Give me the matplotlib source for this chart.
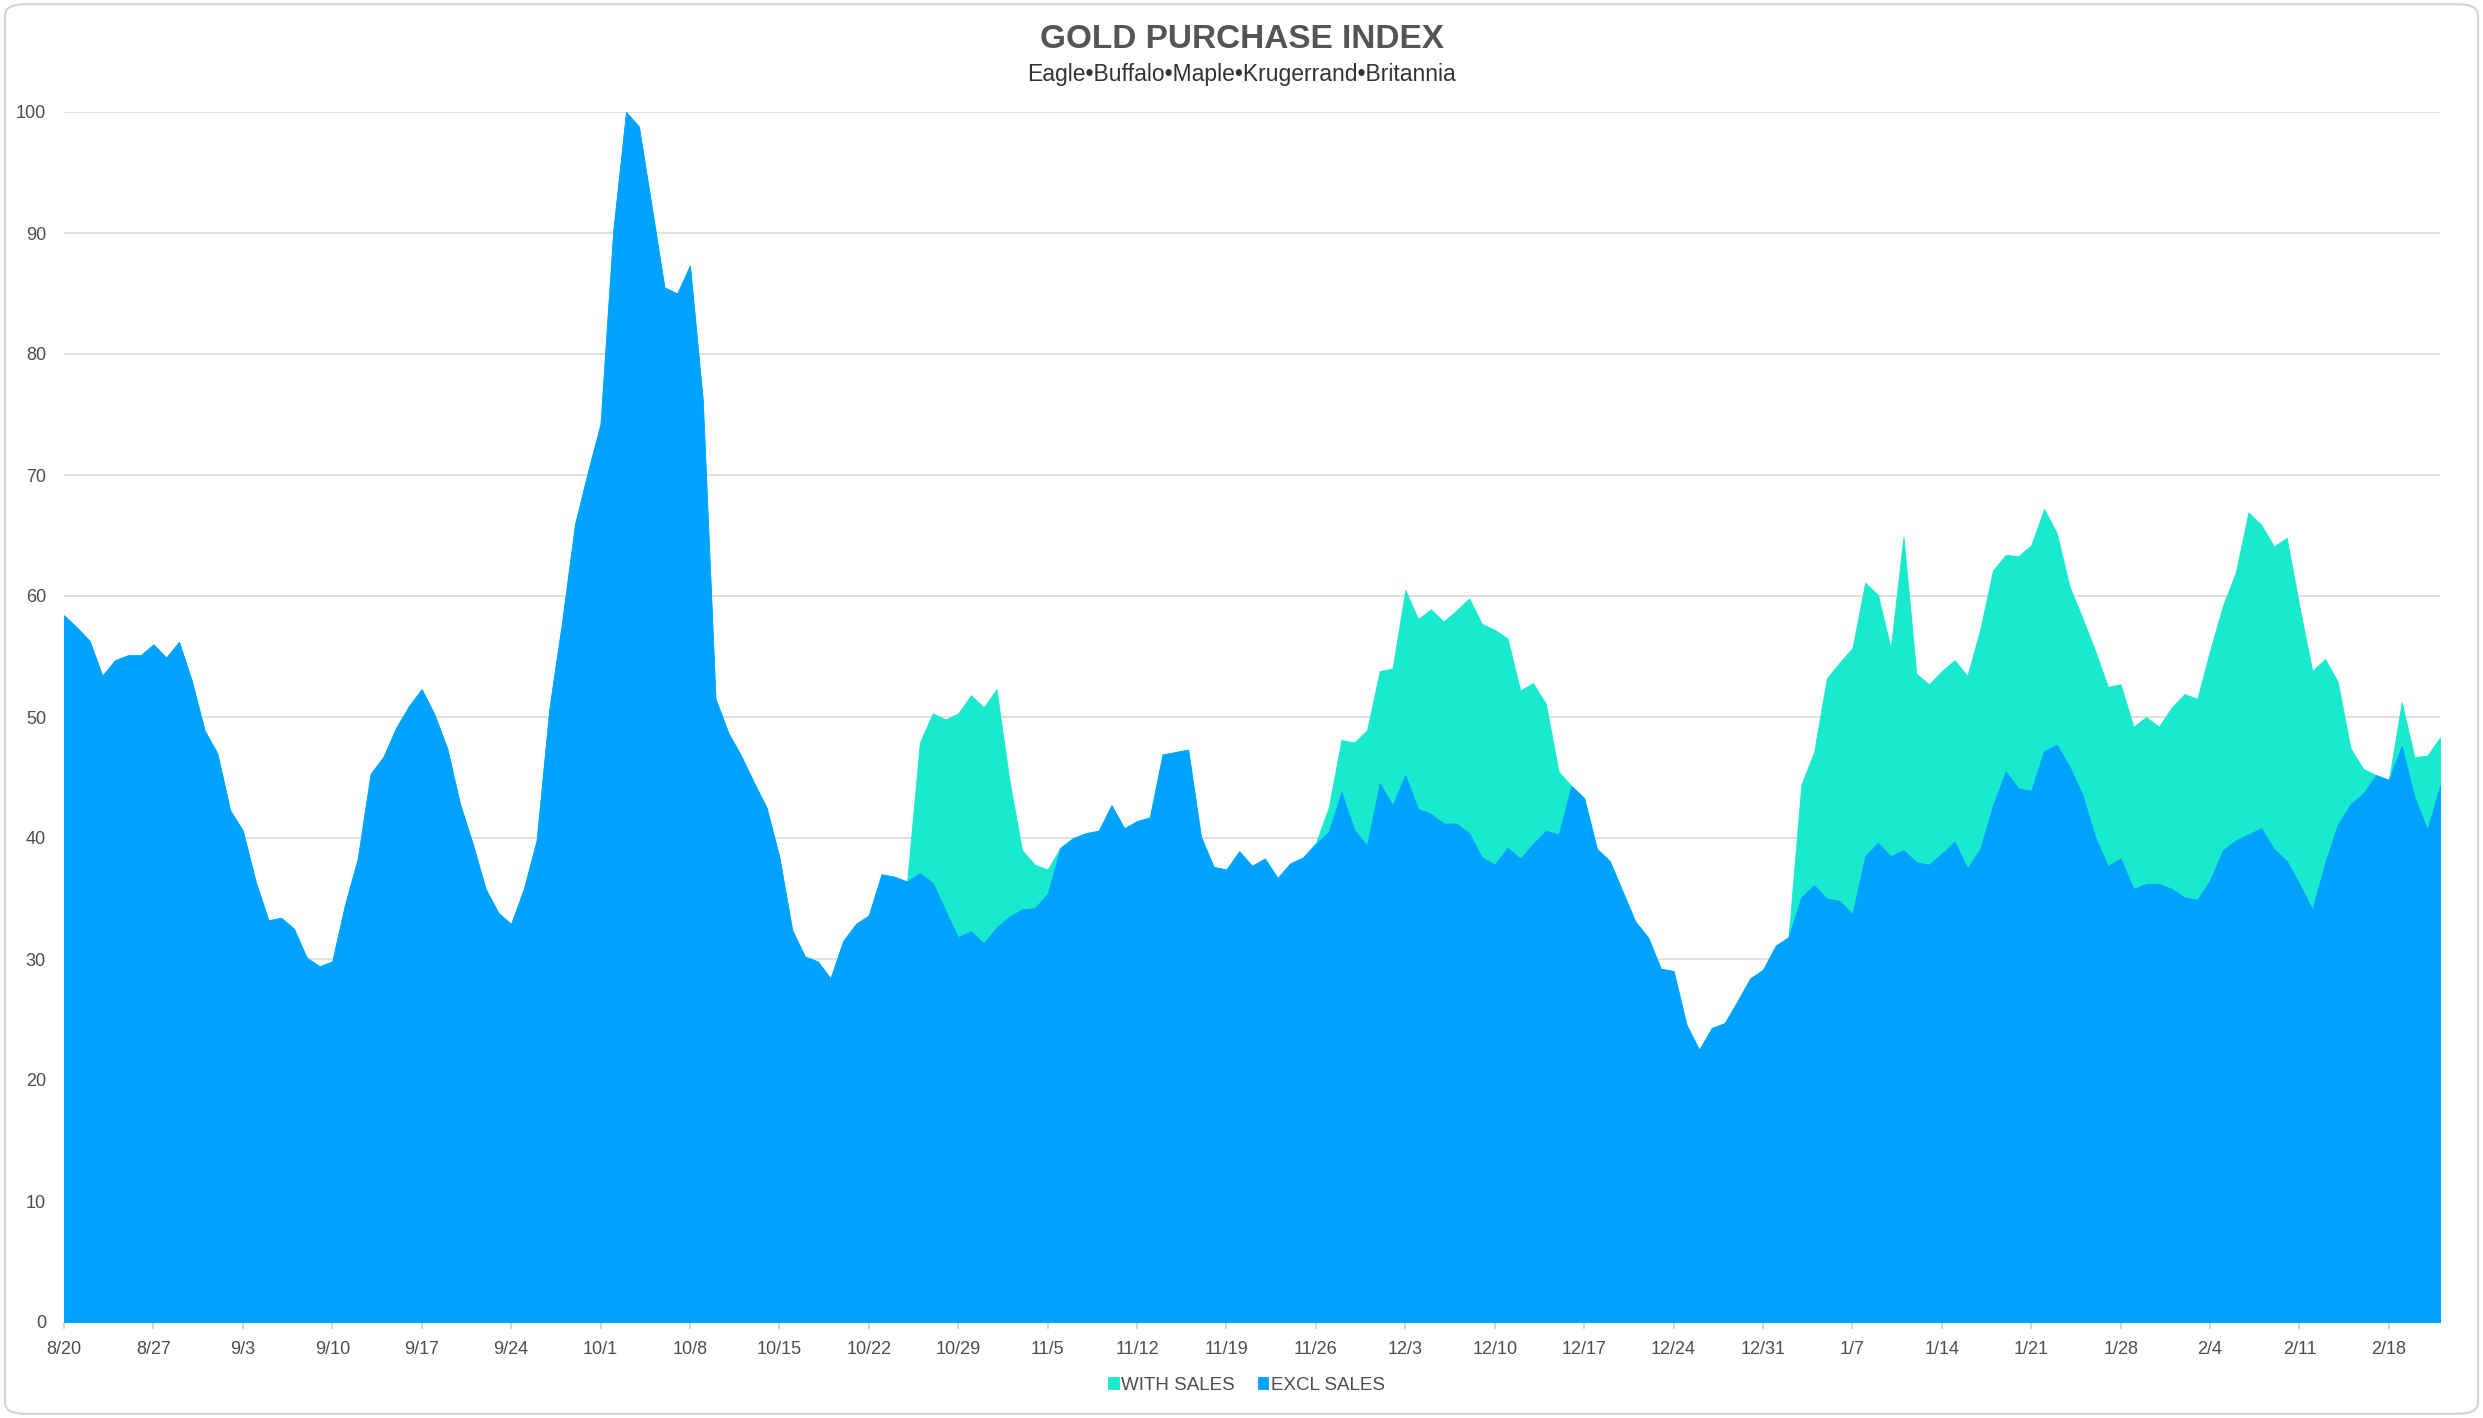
import numpy as np
import matplotlib
matplotlib.use("Agg")
import matplotlib.pyplot as plt
from matplotlib.patches import FancyBboxPatch

plt.rcParams['font.family'] = ['Liberation Sans', 'DejaVu Sans']

# daily index values, 8/20 .. 2/22
excl_sales = [
    58.4, 57.4, 56.3, 53.4, 54.7, 55.1, 55.1, 56.0, 54.9, 56.2,
    53.0, 48.9, 47.0, 42.3, 40.6, 36.4, 33.2, 33.4, 32.5, 30.1,
    29.4, 29.8, 34.5, 38.3, 45.3, 46.7, 49.1, 50.9, 52.3, 50.2,
    47.4, 42.8, 39.5, 35.8, 33.8, 32.9, 35.8, 39.8, 50.7, 57.9,
    65.9, 70.2, 74.2, 90.2, 100.0, 98.8, 92.2, 85.5, 85.0, 87.3,
    76.2, 51.5, 48.7, 46.8, 44.6, 42.5, 38.4, 32.4, 30.2, 29.8,
    28.4, 31.5, 32.9, 33.6, 37.0, 36.8, 36.4, 37.1, 36.3, 34.0,
    31.8, 32.3, 31.3, 32.6, 33.5, 34.1, 34.2, 35.4, 39.2, 40.0,
    40.4, 40.6, 42.7, 40.8, 41.4, 41.7, 46.9, 47.1, 47.3, 40.1,
    37.6, 37.4, 38.9, 37.7, 38.3, 36.7, 37.9, 38.4, 39.5, 40.5,
    43.8, 40.7, 39.4, 44.5, 42.7, 45.2, 42.4, 42.0, 41.2, 41.2,
    40.4, 38.4, 37.8, 39.2, 38.3, 39.5, 40.6, 40.3, 44.3, 43.3,
    39.1, 38.1, 35.6, 33.1, 31.8, 29.2, 29.0, 24.6, 22.5, 24.3,
    24.7, 26.5, 28.4, 29.1, 31.1, 31.8, 35.1, 36.1, 35.0, 34.8,
    33.7, 38.5, 39.6, 38.5, 39.0, 38.0, 37.8, 38.7, 39.7, 37.5,
    39.1, 42.7, 45.5, 44.1, 43.9, 47.2, 47.7, 45.9, 43.6, 40.1,
    37.7, 38.3, 35.8, 36.2, 36.2, 35.8, 35.1, 34.9, 36.5, 39.0,
    39.8, 40.3, 40.8, 39.1, 38.1, 36.2, 34.1, 37.9, 41.1, 42.8,
    43.7, 45.2, 44.8, 47.6, 43.4, 40.7, 44.3,
]

with_sales = [
    58.4, 57.4, 56.3, 53.4, 54.7, 55.1, 55.1, 56.0, 54.9, 56.2,
    53.0, 48.9, 47.0, 42.3, 40.6, 36.4, 33.2, 33.4, 32.5, 30.1,
    29.4, 29.8, 34.5, 38.3, 45.3, 46.7, 49.1, 50.9, 52.3, 50.2,
    47.4, 42.8, 39.5, 35.8, 33.8, 32.9, 35.8, 39.8, 50.7, 57.9,
    65.9, 70.2, 74.2, 90.2, 100.0, 98.8, 92.2, 85.5, 85.0, 87.3,
    76.2, 51.5, 48.7, 46.8, 44.6, 42.5, 38.4, 32.4, 30.2, 29.8,
    28.4, 31.5, 32.9, 33.6, 37.0, 36.8, 36.4, 47.9, 50.3, 49.8,
    50.3, 51.8, 50.8, 52.3, 44.8, 39.0, 37.8, 37.4, 39.2, 40.0,
    40.4, 40.6, 42.7, 40.8, 41.4, 41.7, 46.9, 47.1, 47.3, 40.1,
    37.6, 37.4, 38.9, 37.7, 38.3, 36.7, 37.9, 38.4, 39.6, 42.5,
    48.1, 47.9, 48.9, 53.8, 54.0, 60.5, 58.1, 58.9, 57.9, 58.8,
    59.8, 57.7, 57.2, 56.5, 52.2, 52.8, 51.1, 45.5, 44.3, 43.3,
    39.1, 38.1, 35.6, 33.1, 31.8, 29.2, 29.0, 24.6, 22.5, 24.3,
    24.7, 26.5, 28.4, 29.1, 31.1, 31.8, 44.4, 47.1, 53.2, 54.5,
    55.7, 61.1, 60.1, 55.7, 64.9, 53.6, 52.7, 53.8, 54.7, 53.4,
    57.2, 62.1, 63.4, 63.3, 64.2, 67.2, 65.2, 60.8, 58.2, 55.5,
    52.5, 52.7, 49.2, 50.0, 49.2, 50.8, 51.9, 51.5, 55.5, 59.2,
    61.9, 66.9, 65.9, 64.1, 64.8, 59.1, 53.8, 54.8, 52.9, 47.4,
    45.7, 45.2, 44.8, 51.2, 46.7, 46.8, 48.3,
]

tick_labels = ['8/20', '8/27', '9/3', '9/10', '9/17', '9/24', '10/1', '10/8',
               '10/15', '10/22', '10/29', '11/5', '11/12', '11/19', '11/26',
               '12/3', '12/10', '12/17', '12/24', '12/31', '1/7', '1/14',
               '1/21', '1/28', '2/4', '2/11', '2/18']

GREEN = '#19E9CE'
BLUE = '#00A2FF'
TXT = '#4D4D4D'

x = np.arange(len(excl_sales))

fig = plt.figure(figsize=(24.83, 14.18), dpi=100)
ax = fig.add_axes([64 / 2483, 1 - 1322 / 1418, (2440 - 64) / 2483, (1322 - 112) / 1418])

# rounded frame round the whole chart
frame = FancyBboxPatch((0.002, 0.003), 0.996, 0.994, boxstyle="round,pad=0,rounding_size=0.008",
                       transform=fig.transFigure, fill=False, edgecolor='#D4D4D4', linewidth=1.5)
fig.patches.append(frame)

ax.fill_between(x, 0, with_sales, color=GREEN, linewidth=0.6, edgecolor=GREEN, label='WITH SALES', zorder=2)
ax.fill_between(x, 0, excl_sales, color=BLUE, linewidth=0.6, edgecolor=BLUE, label='EXCL SALES', zorder=3)

ax.set_xlim(0, len(x) - 1)
ax.set_ylim(0, 100)
ax.set_yticks(range(0, 101, 10))
ax.grid(axis='y', color='#D9D9D9', linewidth=1.2, zorder=0)
ax.set_axisbelow(True)
for s in ax.spines.values():
    s.set_visible(False)

ax.set_xticks(np.arange(len(tick_labels)) * 7)
ax.set_xticklabels(tick_labels)
ax.tick_params(axis='x', length=5, width=1.2, color='#CFCFCF', colors=TXT, labelsize=13, pad=9)
ax.tick_params(axis='x', color='#CFCFCF')
ax.tick_params(axis='y', length=0, labelcolor=TXT, labelsize=13, pad=13)
ax.axhline(0, color='#D0D0D0', linewidth=1.2, zorder=1)

fig.text(0.5, 1 - 40 / 1418, 'GOLD PURCHASE INDEX', ha='center', va='center',
         fontsize=24, fontweight='bold', color='#555555')
fig.text(0.5, 1 - 74 / 1418, 'Eagle\u2022Buffalo\u2022Maple\u2022Krugerrand\u2022Britannia',
         ha='center', va='center', fontsize=16.5, color='#333333')

fig.legend(loc='center', bbox_to_anchor=(0.502, 1 - 1385 / 1418), ncol=2, frameon=False,
           fontsize=13.5, handlelength=0.55, handleheight=0.55, handletextpad=0.15,
           columnspacing=1.2, labelcolor=TXT)

fig.savefig('out.png', dpi=100)
